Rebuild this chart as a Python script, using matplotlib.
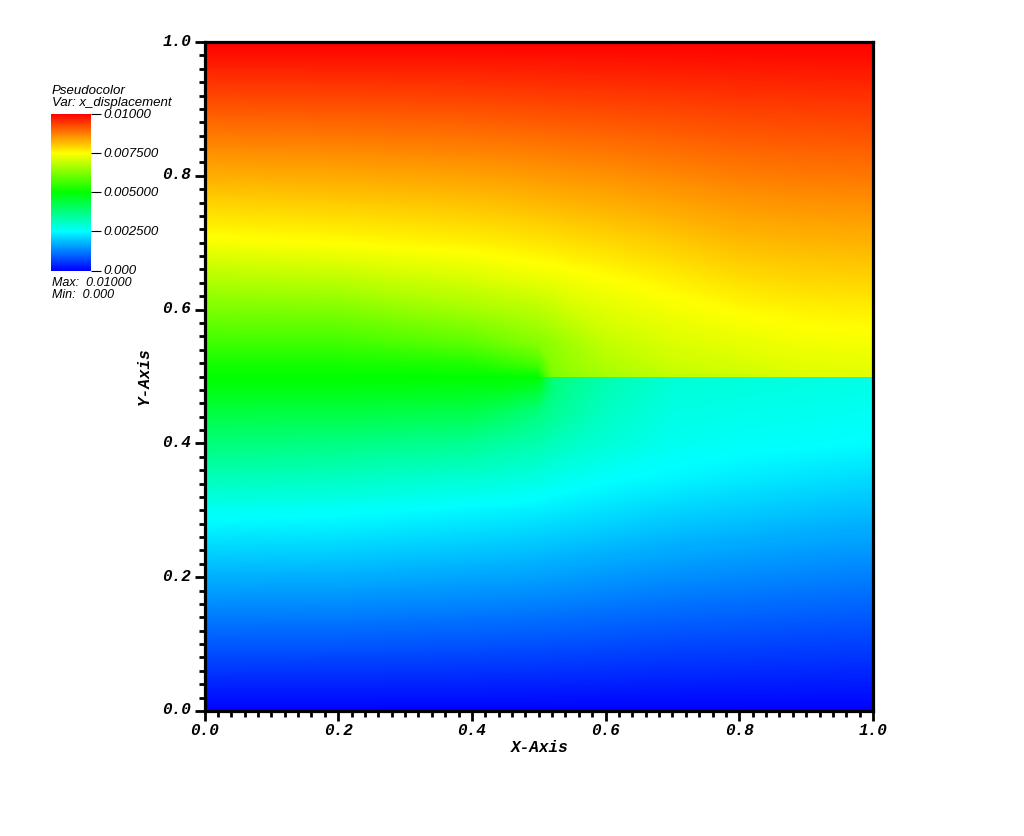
import matplotlib
matplotlib.use("Agg")
import matplotlib.pyplot as plt
import numpy as np
from matplotlib.cm import ScalarMappable
from matplotlib.colors import LinearSegmentedColormap, Normalize
from matplotlib.ticker import MultipleLocator
from matplotlib.transforms import ScaledTranslation

# x_displacement, split along the crack at y = 0.5
x_samples = [0.0, 0.2, 0.4, 0.45, 0.5, 0.52, 0.55, 0.6, 0.7, 0.8, 0.9, 1.0]

y_lower = [0.0, 0.1, 0.2, 0.3, 0.35, 0.4, 0.45, 0.48, 0.5]
disp_lower = [
    [0, 0, 0, 0, 0, 0, 0, 0, 0, 0, 0, 0],
    [.00086, .00085, .00081, .00079, .00078, .00077, .00076, .00074, .00069, .00067, .00064, .00062],
    [.00172, .0017, .00161, .00159, .00156, .00154, .00152, .00147, .00139, .00133, .00128, .00123],
    [.00262, .00256, .00242, .00238, .00234, .00231, .00227, .00221, .00208, .002, .00192, .00185],
    [.00321, .00312, .00295, .00288, .0028, .00272, .00265, .00255, .00243, .00233, .00224, .00216],
    [.00381, .00372, .00355, .0034, .0033, .00318, .00305, .0029, .00265, .00257, .00253, .00247],
    [.0044, .0044, .0043, .0041, .0038, .0036, .0034, .0031, .00278, .00271, .00267, .00262],
    [.0048, .0048, .00475, .0047, .0045, .0038, .0035, .00322, .00286, .00281, .00276, .00271],
    [.005, .005, .005, .005, .005, .0038, .0036, .0033, .0029, .00285, .0028, .00275],
]

y_upper = [0.5, 0.52, 0.55, 0.6, 0.65, 0.7, 0.8, 0.9, 1.0]
disp_upper = [
    [.005, .005, .005, .005, .005, .0062, .0064, .0066, .0069, .0070, .00715, .0072],
    [.0052, .0052, .0053, .0055, .0057, .0063, .0065, .00672, .0070, .00711, .00724, .00728],
    [.0056, .0056, .0059, .0061, .0063, .0064, .0066, .0069, .00714, .00726, .00737, .0074],
    [.0062, .00625, .0066, .0067, .0068, .0069, .00705, .0072, .00738, .00753, .00762, .00765],
    [.0068, .0069, .00715, .00725, .00733, .00735, .00742, .0075, .00767, .00784, .00792, .00795],
    [.0074, .0075, .00762, .00767, .00773, .00775, .0078, .00786, .0080, .00815, .00821, .00824],
    [.00828, .00833, .00841, .00845, .00849, .00851, .00854, .00857, .00867, .00876, .00881, .00883],
    [.00914, .00917, .00921, .00923, .00925, .00926, .00927, .00929, .00933, .00938, .0094, .00942],
    [.01, .01, .01, .01, .01, .01, .01, .01, .01, .01, .01, .01],
]

cbar_ticks = [0.0, 0.0025, 0.005, 0.0075, 0.01]
cbar_labels = ["0.000", "0.002500", "0.005000", "0.007500", "0.01000"]
axis_ticks = [0.0, 0.2, 0.4, 0.6, 0.8, 1.0]

W, H = 1024, 836
cmap = LinearSegmentedColormap.from_list(
    "hot_visit", ["#0000ff", "#00ffff", "#00ff00", "#ffff00", "#ff0000"], N=1024)
norm = Normalize(0, 0.01)
levels = np.linspace(0, 0.01, 401)

fig = plt.figure(figsize=(W / 100, H / 100), dpi=100)

# Main plot
ax = fig.add_axes([204.5 / W, 1 - 711 / H, 668.5 / W, 669 / H])
ax.contourf(x_samples, y_lower, disp_lower, levels=levels, cmap=cmap, norm=norm, antialiased=False)
ax.contourf(x_samples, y_upper, disp_upper, levels=levels, cmap=cmap, norm=norm, antialiased=False)
ax.set_xlim(0, 1)
ax.set_ylim(0, 1)

mono = dict(family="Liberation Mono", weight="bold", style="italic", size=11.5)
ax.set_xticks(axis_ticks)
ax.set_yticks(axis_ticks)
ax.set_xticklabels([f"{t:.1f}" for t in axis_ticks], **mono)
ax.set_yticklabels([f"{t:.1f}" for t in axis_ticks], **mono)
ax.xaxis.set_minor_locator(MultipleLocator(0.02))
ax.yaxis.set_minor_locator(MultipleLocator(0.02))
ax.tick_params(which="major", length=7, width=2)
ax.tick_params(which="minor", length=4, width=2)
ax.tick_params(axis="x", which="major", pad=1.8)
ax.tick_params(axis="y", which="major", pad=2.5)
for lab in ax.get_yticklabels():
    lab.set_transform(lab.get_transform() + ScaledTranslation(0, 2.5 / 100, fig.dpi_scale_trans))
for spine in ax.spines.values():
    spine.set_linewidth(2.3)
    spine.set_zorder(5)

fig.text(540 / W, 1 - 747 / H, "X-Axis", ha="center", va="center", **mono)
fig.text(144 / W, 1 - 376 / H, "Y-Axis", ha="center", va="center", rotation=90, **mono)

# Legend
sans = dict(family="Liberation Sans", style="italic", size=9.5)
fig.text(52 / W, 1 - 90.5 / H, "Pseudocolor", va="center", **sans)
fig.text(52 / W, 1 - 103 / H, "Var: x_displacement", va="center", **sans)
fig.text(52 / W, 1 - 283.5 / H, "Max:  0.01000", va="center", family="Liberation Sans", style="italic", size=9)
fig.text(52 / W, 1 - 295.5 / H, "Min:  0.000", va="center", family="Liberation Sans", style="italic", size=9)

cax = fig.add_axes([51 / W, 1 - 270.5 / H, 39.5 / W, 156.5 / H])
cbar = fig.colorbar(ScalarMappable(norm=norm, cmap=cmap), cax=cax, ticks=cbar_ticks)
cbar.outline.set_visible(False)
cbar.ax.set_yticklabels(cbar_labels, **sans)
cbar.ax.tick_params(length=7.5, width=0.8, pad=2)
cbar.ax.minorticks_off()
for lab in cbar.ax.get_yticklabels():
    lab.set_transform(lab.get_transform() + ScaledTranslation(0, 1 / 100, fig.dpi_scale_trans))

fig.savefig("out.png", dpi=100)
